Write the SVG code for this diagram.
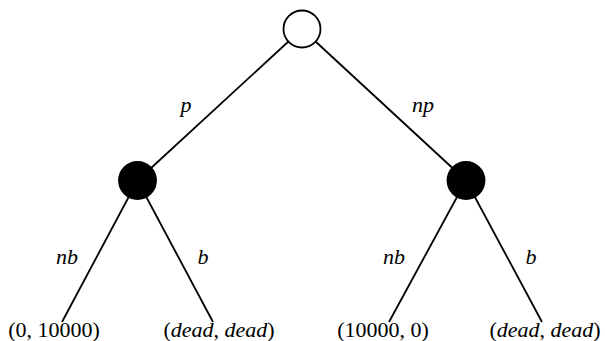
<svg xmlns="http://www.w3.org/2000/svg" width="605" height="341" viewBox="0 0 605 341">
<style>
.edge{stroke:#000;stroke-width:1.8;fill:none}
.node{stroke:#000;stroke-width:1.8}
text{font-family:"Liberation Serif","DejaVu Serif",serif;font-size:22px;fill:#000;text-anchor:middle}
.v{font-style:italic}
</style>
<rect width="605" height="341" fill="#fff"/>
<g id="connectors">
<line class="edge" x1="302" y1="29" x2="137.5" y2="180.5"/>
<line class="edge" x1="302" y1="29" x2="466" y2="180.5"/>
<line class="edge" x1="137.5" y1="180.5" x2="62" y2="322"/>
<line class="edge" x1="137.5" y1="180.5" x2="213" y2="322"/>
<line class="edge" x1="466" y1="180.5" x2="389" y2="322"/>
<line class="edge" x1="466" y1="180.5" x2="542" y2="322"/>
<text class="v" x="186" y="112">p</text>
<text class="v" x="423" y="112">np</text>
<text class="v" x="67" y="264">nb</text>
<text class="v" x="203" y="264">b</text>
<text class="v" x="394" y="264">nb</text>
<text class="v" x="531" y="264">b</text>
</g>
<g id="root"><circle class="node" cx="302" cy="29" r="18.5" fill="#fff"/></g>
<g id="left"><circle class="node" cx="137.5" cy="180.5" r="18.5" fill="#000"/></g>
<g id="right"><circle class="node" cx="466" cy="180.5" r="18.5" fill="#000"/></g>
<g id="leaf1"><text x="54" y="337">(0, 10000)</text></g>
<g id="leaf2"><text x="219" y="337">(<tspan class="v">dead</tspan>, <tspan class="v">dead</tspan>)</text></g>
<g id="leaf3"><text x="383" y="337">(10000, 0)</text></g>
<g id="leaf4"><text x="545" y="337">(<tspan class="v">dead</tspan>, <tspan class="v">dead</tspan>)</text></g>
</svg>
